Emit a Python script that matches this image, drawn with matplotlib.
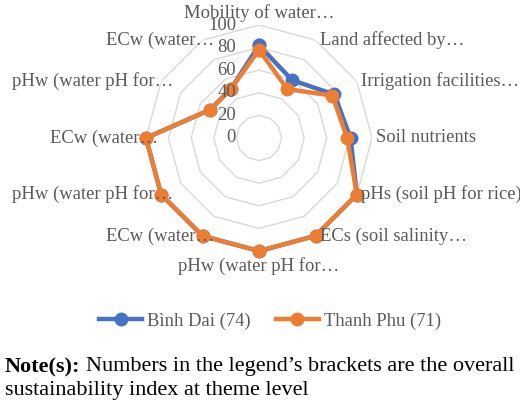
import numpy as np
import matplotlib
matplotlib.use("Agg")
import matplotlib.pyplot as plt
import matplotlib.transforms as mtransforms
from matplotlib.lines import Line2D

plt.rcParams['font.family'] = ['Liberation Serif', 'DejaVu Serif']

# categories around the radar, clockwise from the top
categories = ["Mobility of water…", "Land affected by…", "Irrigation facilities…",
              "Soil nutrients", "pHs (soil pH for rice)", "ECs (soil salinity…",
              "pHw (water pH for…", "ECw (water…", "pHw (water pH for…",
              "ECw (water…", "pHw (water pH for…", "ECw (water…"]
binh_dai = [82, 59, 77, 81, 100, 100, 100, 100, 100, 100, 50, 50]
thanh_phu = [78, 50, 75, 78, 100, 100, 100, 100, 100, 100, 50, 50]
series_names = ["Bình Dai (74)", "Thanh Phu (71)"]
rings = [20, 40, 60, 80, 100]
tick_values = [0, 20, 40, 60, 80, 100]

blue = "#4472C4"
orange = "#ED7D31"
grey_txt = "#595959"
fs = 13.4

W, H = 520, 405
fig = plt.figure(figsize=(W / 100, H / 100), dpi=100)

cx, cy, R = 259, 138, 113
ax = fig.add_axes([(cx - R) / W, (H - cy - R) / H, 2 * R / W, 2 * R / H], projection='polar')
ax.set_theta_zero_location('N')
ax.set_theta_direction(-1)
ax.set_ylim(0, 100)
ax.grid(False)
ax.set_xticks([])
ax.set_yticks([])
ax.spines['polar'].set_visible(False)
ax.patch.set_alpha(0)

n = len(categories)
angles = np.linspace(0, 2 * np.pi, n, endpoint=False)
closed = np.append(angles, angles[0])

# polygon grid rings
for r in rings:
    ax.plot(closed, [r] * (n + 1), color="#D9D9D9", lw=1.0, zorder=1)

for vals, col in [(binh_dai, blue), (thanh_phu, orange)]:
    v = np.append(vals, vals[0])
    ax.plot(closed, v, color=col, lw=3.2, marker='o', markersize=9, zorder=3,
            clip_on=False)

# radial tick labels left of the vertical axis
tr = mtransforms.offset_copy(ax.transData, fig=fig, x=-23, y=0, units='dots')
for v in tick_values:
    ax.text(0, v, str(v), transform=tr, ha='right', va='center',
            fontsize=fs, color=grey_txt)

# category labels
for ang, lab in zip(angles, categories):
    deg = np.degrees(ang) % 360
    if deg == 0:
        ha, va, dx, dy = 'center', 'bottom', 0, 3
    elif abs(deg - 180) < 1:
        ha, va, dx, dy = 'center', 'top', 0, -6
    elif deg < 180:
        ha, va, dx, dy = 'left', 'center', 4, 0
    else:
        ha, va, dx, dy = 'right', 'center', 12, 0
    t = mtransforms.offset_copy(ax.transData, fig=fig, x=dx, y=dy, units='dots')
    ax.text(ang, 100, lab, transform=t, ha=ha, va=va, fontsize=fs, color=grey_txt)

# legend
handles = [Line2D([0], [0], color=c, lw=3.2, marker='o', markersize=9)
           for c in (blue, orange)]
fig.legend(handles, series_names, loc='center', bbox_to_anchor=(270 / W, 1 - 321 / H),
           ncol=2, frameon=False, fontsize=fs, labelcolor=grey_txt,
           handlelength=2.3, handletextpad=0.27, columnspacing=1.35)

# note text
fig.canvas.draw()
renderer = fig.canvas.get_renderer()
nt = fig.text(5 / W, 1 - 367 / H, "Note(s):", fontsize=16, fontweight='bold',
              color='black', va='center', ha='left')
bb = nt.get_window_extent(renderer)
fig.text((bb.x1 + 5) / W, 1 - 367 / H, "Numbers in the legend’s brackets are the overall",
         fontsize=16, color='black', va='center', ha='left')
fig.text(5 / W, 1 - 390 / H, "sustainability index at theme level",
         fontsize=16, color='black', va='center', ha='left')

fig.savefig("out.png", dpi=100)
